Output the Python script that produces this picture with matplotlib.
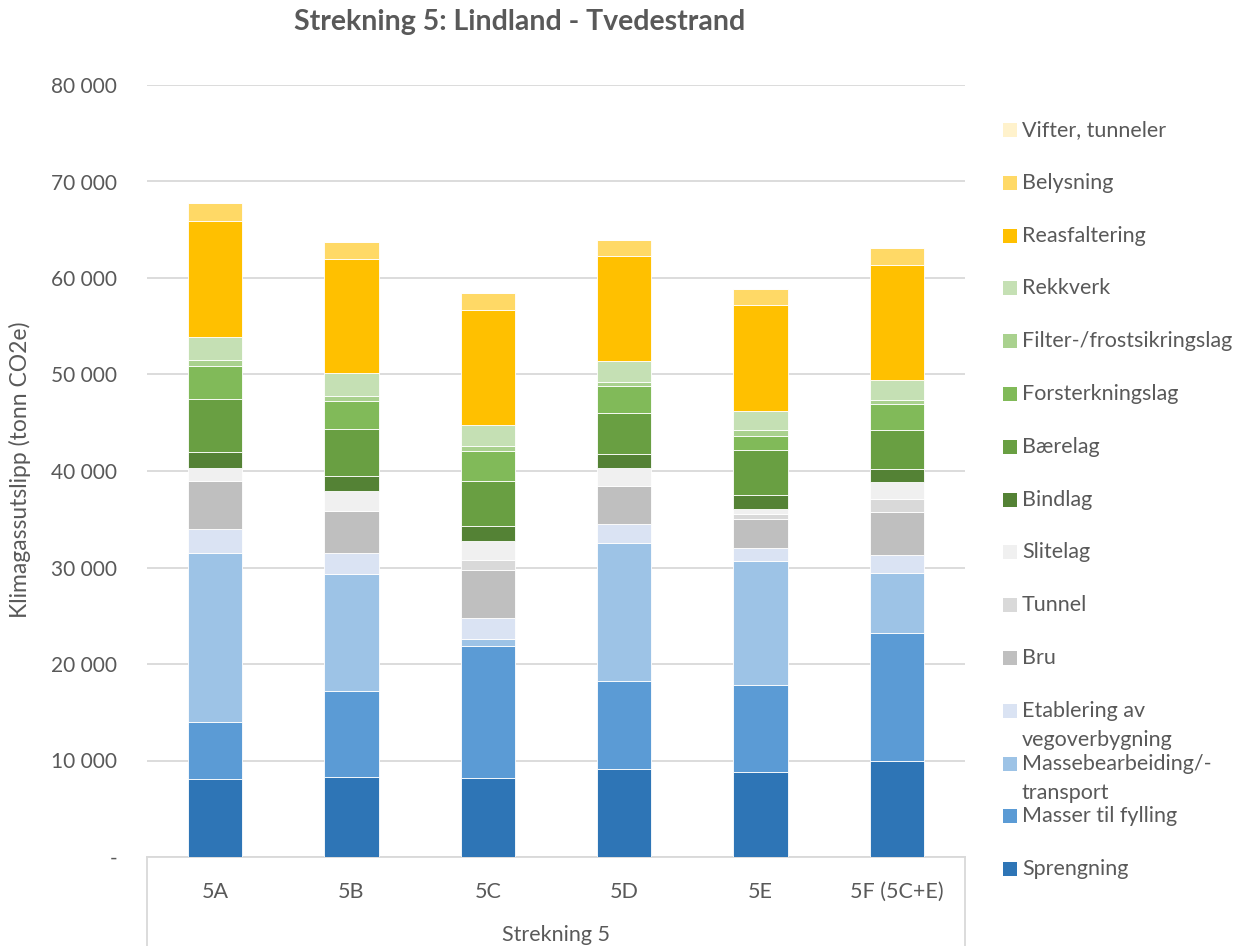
import numpy as np
import matplotlib.pyplot as plt
from matplotlib.patches import Rectangle
from matplotlib.lines import Line2D
from matplotlib.ticker import FuncFormatter

# ==========================================
#              DATA (tonn CO2e)
# ==========================================
categories = ["5A", "5B", "5C", "5D", "5E", "5F (5C+E)"]
group_label = "Strekning 5"

# bottom -> top
sprengning = [8050, 8290, 8150, 9120, 8840, 9980]
masser_fylling = [5940, 8910, 13710, 9120, 8950, 13260]
massebearbeiding = [17510, 12120, 730, 14310, 12900, 6150]
etablering = [2490, 2180, 2210, 1920, 1300, 1900]
bru = [4970, 4350, 4970, 3940, 3070, 4460]
tunnel = [0, 0, 1040, 0, 520, 1350]
slitelag = [1380, 2070, 1930, 1900, 490, 1760]
bindlag = [1630, 1590, 1560, 1420, 1420, 1320]
baerelag = [5460, 4800, 4690, 4310, 4660, 4110]
forsterkningslag = [3490, 2970, 3110, 2730, 1520, 2660]
filterlag = [590, 520, 520, 480, 590, 420]
rekkverk = [2380, 2320, 2110, 2110, 2000, 2040]
reasfaltering = [12050, 11880, 11990, 10940, 10990, 11920]
belysning = [1800, 1770, 1690, 1630, 1630, 1820]
vifter = [0, 0, 0, 0, 0, 0]

series = [
    ("Sprengning", sprengning, "#2E75B6"),
    ("Masser til fylling", masser_fylling, "#5B9BD5"),
    ("Massebearbeiding/-\ntransport", massebearbeiding, "#9DC3E6"),
    ("Etablering av\nvegoverbygning", etablering, "#DAE3F3"),
    ("Bru", bru, "#BFBFBF"),
    ("Tunnel", tunnel, "#D9D9D9"),
    ("Slitelag", slitelag, "#F0F0F0"),
    ("Bindlag", bindlag, "#548235"),
    ("Bærelag", baerelag, "#699F42"),
    ("Forsterkningslag", forsterkningslag, "#81BA59"),
    ("Filter-/frostsikringslag", filterlag, "#A9D18E"),
    ("Rekkverk", rekkverk, "#C5E0B4"),
    ("Reasfaltering", reasfaltering, "#FFC000"),
    ("Belysning", belysning, "#FFD966"),
    ("Vifter, tunneler", vifter, "#FFF2CC"),
]

# ==========================================
#              STYLE
# ==========================================
plt.rcParams['font.family'] = ['Lato', 'DejaVu Sans']
TEXT = "#595959"
FS = 15.5
W, H = 1249, 946

fig = plt.figure(figsize=(W / 100, H / 100), dpi=100)
ax = fig.add_axes([147 / W, (H - 857) / H, (965 - 147) / W, (857 - 85) / H])

x = np.arange(len(categories))
bottom = np.zeros(len(categories))
for name, vals, col in series:
    vals = np.array(vals, dtype=float)
    ax.bar(x, vals, width=0.4, bottom=bottom, color=col,
           edgecolor="white", linewidth=0.6, zorder=3)
    bottom += vals

ax.set_xlim(-0.5, len(categories) - 0.5)
ax.set_ylim(0, 80000)
ax.set_yticks(np.arange(0, 80001, 10000))
ax.yaxis.set_major_formatter(FuncFormatter(
    lambda v, p: "-" if v == 0 else f"{int(v):,}".replace(",", " ")))
ax.grid(axis="y", color="#D9D9D9", linewidth=1.3, zorder=0)
for s in ["top", "right", "left"]:
    ax.spines[s].set_visible(False)
ax.spines["bottom"].set_color("#D9D9D9")
ax.spines["bottom"].set_linewidth(1.3)
ax.tick_params(axis="both", length=0, labelcolor=TEXT)
ax.tick_params(axis="y", pad=21.5, labelsize=15)
ax.tick_params(axis="x", pad=18, labelsize=FS)
ax.set_xticks(x)
ax.set_xticklabels(categories)

# category box below the axis
for xa in (0, 1):
    ax.add_line(Line2D([xa, xa], [0, -0.2], transform=ax.transAxes,
                       color="#D9D9D9", linewidth=1.3, clip_on=False))
ax.text(0.5, -(935 - 857) / (857 - 85), group_label, transform=ax.transAxes,
        ha="center", va="center", fontsize=FS, color=TEXT)

fig.text(20 / W, 1 - 470 / H, "Klimagassutslipp (tonn CO2e)", rotation=90,
         ha="center", va="center", fontsize=16.5, color=TEXT)
fig.text(520 / W, 1 - 22 / H, "Strekning 5: Lindland - Tvedestrand",
         ha="center", va="center", fontsize=20.5, fontweight="bold", color=TEXT)

# legend, drawn like the Excel one (top entry = top of stack)
for i, (name, vals, col) in enumerate(series[::-1]):
    yc = 130 + i * 52.8
    fig.patches.append(Rectangle((1003 / W, 1 - (yc + 7) / H), 14 / W, 14 / H,
                                 transform=fig.transFigure, facecolor=col,
                                 edgecolor="none"))
    for j, line in enumerate(name.split("\n")):
        fig.text(1022 / W, 1 - (yc + j * 29) / H, line, ha="left", va="center",
                 fontsize=FS, color=TEXT)

plt.savefig("out.png", dpi=100)
